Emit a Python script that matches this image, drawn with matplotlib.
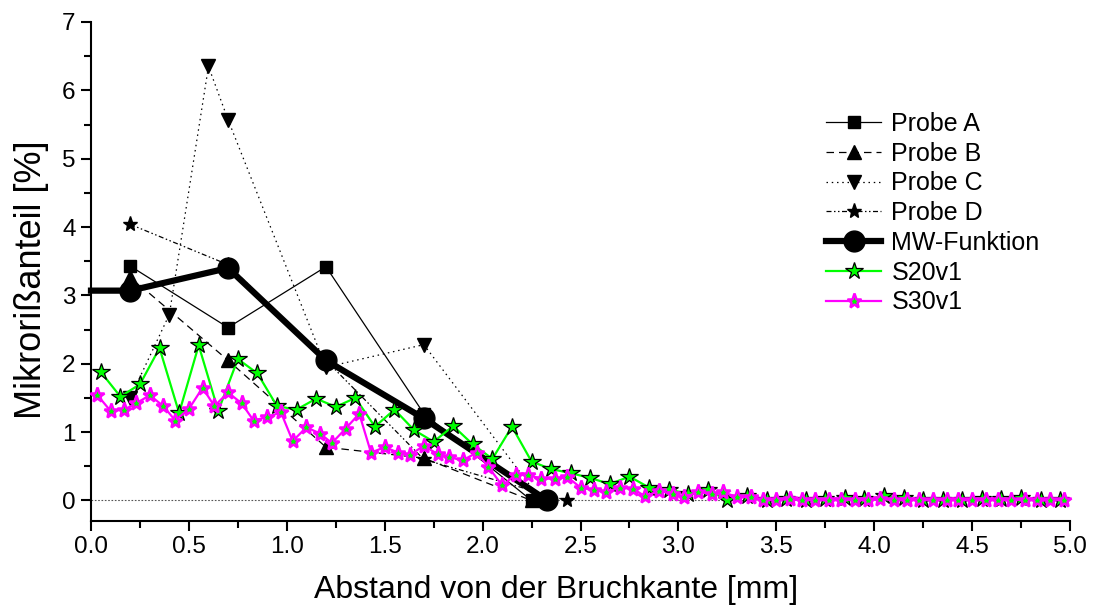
import matplotlib
matplotlib.use("Agg")
import matplotlib.pyplot as plt
from matplotlib.ticker import MultipleLocator

plt.rcParams['font.family'] = ['Liberation Sans', 'DejaVu Sans']

# ---- data ----
a_x = [0.2, 0.7, 1.2, 1.7, 2.25]
a_y = [3.43, 2.53, 3.42, 1.27, 0.0]
b_x = [0.2, 0.7, 1.2, 1.7, 2.25]
b_y = [3.27, 2.05, 0.78, 0.62, 0.0]
c_x = [0.2, 0.4, 0.6, 0.7, 1.2, 1.7, 2.3]
c_y = [1.50, 2.72, 6.35, 5.57, 1.95, 2.28, 0.0]
d_x = [0.2, 0.7, 1.2, 1.7, 2.43]
d_y = [4.04, 3.45, 2.05, 0.60, 0.0]
mw_x = [0.0, 0.2, 0.7, 1.2, 1.7, 2.33]
mw_y = [3.07, 3.07, 3.40, 2.05, 1.20, 0.0]

s20_x = [0.05, 0.15, 0.25, 0.35, 0.45, 0.55, 0.65, 0.75, 0.85, 0.95,
         1.05, 1.15, 1.25, 1.35, 1.45, 1.55, 1.65, 1.75, 1.85, 1.95,
         2.05, 2.15, 2.25, 2.35, 2.45, 2.55, 2.65, 2.75, 2.85, 2.95,
         3.05, 3.15, 3.25, 3.35, 3.45, 3.55, 3.65, 3.75, 3.85, 3.95,
         4.05, 4.15, 4.25, 4.35, 4.45, 4.55, 4.65, 4.75, 4.85, 4.95]
s20_y = [1.88, 1.52, 1.70, 2.23, 1.28, 2.27, 1.31, 2.07, 1.86, 1.38,
         1.33, 1.49, 1.37, 1.50, 1.08, 1.33, 1.03, 0.86, 1.09, 0.82,
         0.61, 1.08, 0.57, 0.46, 0.40, 0.33, 0.24, 0.35, 0.19, 0.16,
         0.10, 0.16, 0.00, 0.07, 0.00, 0.02, 0.00, 0.02, 0.03, 0.02,
         0.06, 0.03, 0.00, 0.01, 0.01, 0.02, 0.02, 0.04, 0.00, 0.01]

s30_x = [0.03, 0.10, 0.17, 0.23, 0.30, 0.37, 0.43, 0.50, 0.57, 0.63,
         0.70, 0.77, 0.83, 0.90, 0.97, 1.03, 1.10, 1.17, 1.23, 1.30,
         1.37, 1.43, 1.50, 1.57, 1.63, 1.70, 1.77, 1.83, 1.90, 1.97,
         2.03, 2.10, 2.17, 2.23, 2.30, 2.37, 2.43, 2.50, 2.57, 2.63,
         2.70, 2.77, 2.83, 2.90, 2.97, 3.03, 3.10, 3.17, 3.23, 3.30,
         3.37, 3.43, 3.50, 3.57, 3.63, 3.70, 3.77, 3.83, 3.90, 3.97,
         4.03, 4.10, 4.17, 4.23, 4.30, 4.37, 4.43, 4.50, 4.57, 4.63,
         4.70, 4.77, 4.83, 4.90, 4.97]
s30_y = [1.55, 1.31, 1.33, 1.42, 1.54, 1.38, 1.17, 1.34, 1.65, 1.38,
         1.58, 1.42, 1.17, 1.22, 1.29, 0.87, 1.07, 0.98, 0.84, 1.05,
         1.27, 0.70, 0.78, 0.70, 0.67, 0.80, 0.68, 0.63, 0.59, 0.70,
         0.49, 0.22, 0.38, 0.37, 0.32, 0.32, 0.35, 0.19, 0.15, 0.12,
         0.19, 0.17, 0.06, 0.14, 0.10, 0.05, 0.12, 0.10, 0.12, 0.05,
         0.05, 0.00, 0.01, 0.02, 0.00, 0.01, 0.00, 0.01, 0.01, 0.00,
         0.02, 0.01, 0.00, 0.01, 0.00, 0.01, 0.01, 0.00, 0.01, 0.00,
         0.01, 0.01, 0.00, 0.00, 0.01]

xlabel = "Abstand von der Bruchkante [mm]"
ylabel = "Mikrorißanteil [%]"

fig = plt.figure(figsize=(10.94, 6.09), dpi=100)
ax = fig.add_axes([91/1094, 1-521/609, (1070-91)/1094, (521-22)/609])

ax.axhline(0, color='#555555', lw=0.8, ls=(0, (1.5, 1.5)), zorder=1)

ax.plot(a_x, a_y, color='black', lw=0.9, ls='-', marker='s', ms=8,
        label='Probe A', zorder=3, clip_on=False)
ax.plot(b_x, b_y, color='black', lw=0.9, ls=(0, (6, 4)), marker='^', ms=10,
        label='Probe B', zorder=3, clip_on=False)
ax.plot(c_x, c_y, color='black', lw=0.9, ls=(0, (1.2, 3)), marker='v', ms=10,
        label='Probe C', zorder=3, clip_on=False)
ax.plot(d_x, d_y, color='black', lw=0.9, ls=(0, (4, 2, 1.2, 2, 1.2, 2)), marker='*', ms=11,
        label='Probe D', zorder=3, clip_on=False)
ax.plot(mw_x, mw_y, color='black', lw=4.5, ls='-', marker='o', ms=15,
        markevery=list(range(1, len(mw_x))), label='MW-Funktion', zorder=4, clip_on=False)
ax.plot(s20_x, s20_y, color='#00ff00', lw=1.6, marker='*', ms=13,
        mfc='#00ff00', mec='black', mew=0.9, label='S20v1', zorder=5, clip_on=False)
ax.plot(s30_x, s30_y, color='#ff00ff', lw=1.6, marker='*', ms=11,
        mfc='#00ff00', mec='#ff00ff', mew=1.8, label='S30v1', zorder=6, clip_on=False)

ax.set_xlim(0, 5)
ax.set_ylim(-0.3, 7)
ax.xaxis.set_major_locator(MultipleLocator(0.5))
ax.xaxis.set_minor_locator(MultipleLocator(0.25))
ax.yaxis.set_major_locator(MultipleLocator(1))
ax.yaxis.set_minor_locator(MultipleLocator(0.5))
ax.xaxis.set_major_formatter(matplotlib.ticker.FormatStrFormatter('%.1f'))
for s in ['top', 'right']:
    ax.spines[s].set_visible(False)
for s in ['left', 'bottom']:
    ax.spines[s].set_linewidth(1.5)
ax.tick_params(which='major', direction='out', length=7, width=1.5, labelsize=17.5, pad=4)
ax.tick_params(which='minor', direction='out', length=5, width=1.5)

ax.set_xlabel(xlabel, fontsize=23)
ax.set_ylabel(ylabel, fontsize=26)
ax.xaxis.set_label_coords((556 - 91) / 979, -(590 - 521) / 499, transform=ax.transAxes)
ax.xaxis.label.set_va('center')
ax.yaxis.set_label_coords(-(91 - 32) / 979, (521 - 280) / 499, transform=ax.transAxes)
ax.yaxis.label.set_va('center')

leg = ax.legend(loc='upper left', bbox_to_anchor=(0.741, 0.84), frameon=False,
                fontsize=18, handlelength=2.2, handletextpad=0.4, labelspacing=0.23,
                borderaxespad=0)

fig.savefig('out.png', dpi=100)
